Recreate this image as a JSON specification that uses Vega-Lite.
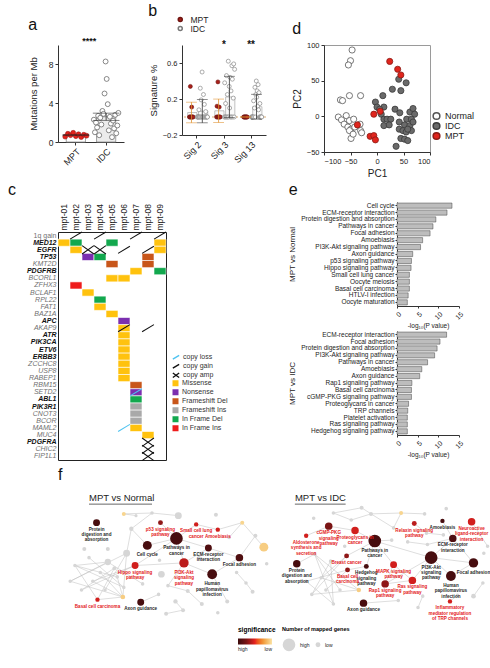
{
"$schema": "https://vega.github.io/schema/vega-lite/v6.json",
"padding": {"left": 8, "top": 3, "right": 2, "bottom": 1},
"spacing": 3,
"resolve": {"scale": {"fill": "independent", "stroke": "independent", "color": "independent", "shape": "independent", "size": "independent"}, "legend": {"fill": "independent", "stroke": "independent", "color": "independent", "shape": "independent", "size": "independent"}},
"config": {
 "font": "Liberation Sans",
 "view": {"stroke": null},
 "axis": {"labelFontSize": 8, "titleFontSize": 9, "titleFontWeight": "normal", "domainColor": "#333", "tickColor": "#333", "labelColor": "#222", "titleColor": "#222", "grid": false, "tickSize": 3, "labelOverlap": false},
 "title": {"anchor": "start", "frame": "bounds", "fontSize": 16, "fontWeight": "normal", "offset": 4, "color": "#111"},
 "legend": {"labelFontSize": 8, "labelColor": "#222"}
},
"datasets": {
 "tmb": [
  {"g":"MPT","id":"M01","v":0.55},{"g":"MPT","id":"M02","v":0.85},{"g":"MPT","id":"M03","v":0.7},{"g":"MPT","id":"M04","v":0.95},{"g":"MPT","id":"M05","v":0.6},{"g":"MPT","id":"M06","v":0.8},{"g":"MPT","id":"M07","v":0.5},{"g":"MPT","id":"M08","v":0.75},{"g":"MPT","id":"M09","v":0.65},
  {"g":"IDC","id":"T01","v":2.3},{"g":"IDC","id":"T02","v":1.0},{"g":"IDC","id":"T03","v":2.0},{"g":"IDC","id":"T04","v":1.5},{"g":"IDC","id":"T05","v":2.7},{"g":"IDC","id":"T06","v":0.7},{"g":"IDC","id":"T07","v":2.5},{"g":"IDC","id":"T08","v":1.8},{"g":"IDC","id":"T09","v":3.2},{"g":"IDC","id":"T10","v":2.9},{"g":"IDC","id":"T11","v":5.0},{"g":"IDC","id":"T12","v":8.3},{"g":"IDC","id":"T13","v":6.5},{"g":"IDC","id":"T14","v":3.9},{"g":"IDC","id":"T15","v":1.2},{"g":"IDC","id":"T16","v":2.6},{"g":"IDC","id":"T17","v":1.9},{"g":"IDC","id":"T18","v":0.5},{"g":"IDC","id":"T19","v":2.2},{"g":"IDC","id":"T20","v":1.4},{"g":"IDC","id":"T21","v":2.8},{"g":"IDC","id":"T22","v":0.9},{"g":"IDC","id":"T23","v":1.7},{"g":"IDC","id":"T24","v":3.0}
 ],
 "sig": [
  {"s":"Sig 2","g":"MPT","id":"M01","v":0},{"s":"Sig 2","g":"MPT","id":"M02","v":0},{"s":"Sig 2","g":"MPT","id":"M03","v":0.34},{"s":"Sig 2","g":"MPT","id":"M04","v":0},{"s":"Sig 2","g":"MPT","id":"M05","v":0},{"s":"Sig 2","g":"MPT","id":"M06","v":0.11},{"s":"Sig 2","g":"MPT","id":"M07","v":0},{"s":"Sig 2","g":"MPT","id":"M08","v":0},{"s":"Sig 2","g":"MPT","id":"M09","v":0},
  {"s":"Sig 2","g":"IDC","id":"T01","v":0},{"s":"Sig 2","g":"IDC","id":"T02","v":0},{"s":"Sig 2","g":"IDC","id":"T03","v":0},{"s":"Sig 2","g":"IDC","id":"T04","v":0},{"s":"Sig 2","g":"IDC","id":"T05","v":0.08},{"s":"Sig 2","g":"IDC","id":"T06","v":0},{"s":"Sig 2","g":"IDC","id":"T07","v":0},{"s":"Sig 2","g":"IDC","id":"T08","v":0.32},{"s":"Sig 2","g":"IDC","id":"T09","v":0},{"s":"Sig 2","g":"IDC","id":"T10","v":0.19},{"s":"Sig 2","g":"IDC","id":"T11","v":0},{"s":"Sig 2","g":"IDC","id":"T12","v":0.5},{"s":"Sig 2","g":"IDC","id":"T13","v":0},{"s":"Sig 2","g":"IDC","id":"T14","v":0},{"s":"Sig 2","g":"IDC","id":"T15","v":0.25},{"s":"Sig 2","g":"IDC","id":"T16","v":0},{"s":"Sig 2","g":"IDC","id":"T17","v":0.14},{"s":"Sig 2","g":"IDC","id":"T18","v":0},{"s":"Sig 2","g":"IDC","id":"T19","v":0},{"s":"Sig 2","g":"IDC","id":"T20","v":0.06},{"s":"Sig 2","g":"IDC","id":"T21","v":0},{"s":"Sig 2","g":"IDC","id":"T22","v":0},{"s":"Sig 2","g":"IDC","id":"T23","v":0},{"s":"Sig 2","g":"IDC","id":"T24","v":0},
  {"s":"Sig 3","g":"MPT","id":"M01","v":0},{"s":"Sig 3","g":"MPT","id":"M02","v":0.12},{"s":"Sig 3","g":"MPT","id":"M03","v":0},{"s":"Sig 3","g":"MPT","id":"M04","v":0.39},{"s":"Sig 3","g":"MPT","id":"M05","v":0},{"s":"Sig 3","g":"MPT","id":"M06","v":0},{"s":"Sig 3","g":"MPT","id":"M07","v":0.11},{"s":"Sig 3","g":"MPT","id":"M08","v":0},{"s":"Sig 3","g":"MPT","id":"M09","v":0},
  {"s":"Sig 3","g":"IDC","id":"T01","v":0},{"s":"Sig 3","g":"IDC","id":"T02","v":0.38},{"s":"Sig 3","g":"IDC","id":"T03","v":0},{"s":"Sig 3","g":"IDC","id":"T04","v":0.15},{"s":"Sig 3","g":"IDC","id":"T05","v":0},{"s":"Sig 3","g":"IDC","id":"T06","v":0.46},{"s":"Sig 3","g":"IDC","id":"T07","v":0},{"s":"Sig 3","g":"IDC","id":"T08","v":0.25},{"s":"Sig 3","g":"IDC","id":"T09","v":0},{"s":"Sig 3","g":"IDC","id":"T10","v":0.62},{"s":"Sig 3","g":"IDC","id":"T11","v":0},{"s":"Sig 3","g":"IDC","id":"T12","v":0.34},{"s":"Sig 3","g":"IDC","id":"T13","v":0.1},{"s":"Sig 3","g":"IDC","id":"T14","v":0.44},{"s":"Sig 3","g":"IDC","id":"T15","v":0},{"s":"Sig 3","g":"IDC","id":"T16","v":0.29},{"s":"Sig 3","g":"IDC","id":"T17","v":0},{"s":"Sig 3","g":"IDC","id":"T18","v":0.57},{"s":"Sig 3","g":"IDC","id":"T19","v":0.42},{"s":"Sig 3","g":"IDC","id":"T20","v":0},{"s":"Sig 3","g":"IDC","id":"T21","v":0.21},{"s":"Sig 3","g":"IDC","id":"T22","v":0.59},{"s":"Sig 3","g":"IDC","id":"T23","v":0},{"s":"Sig 3","g":"IDC","id":"T24","v":0.53},
  {"s":"Sig 13","g":"MPT","id":"M01","v":0},{"s":"Sig 13","g":"MPT","id":"M02","v":0},{"s":"Sig 13","g":"MPT","id":"M03","v":0},{"s":"Sig 13","g":"MPT","id":"M04","v":0},{"s":"Sig 13","g":"MPT","id":"M05","v":0},{"s":"Sig 13","g":"MPT","id":"M06","v":0},{"s":"Sig 13","g":"MPT","id":"M07","v":0},{"s":"Sig 13","g":"MPT","id":"M08","v":0},{"s":"Sig 13","g":"MPT","id":"M09","v":0},
  {"s":"Sig 13","g":"IDC","id":"T01","v":0},{"s":"Sig 13","g":"IDC","id":"T02","v":0},{"s":"Sig 13","g":"IDC","id":"T03","v":0},{"s":"Sig 13","g":"IDC","id":"T04","v":0},{"s":"Sig 13","g":"IDC","id":"T05","v":0},{"s":"Sig 13","g":"IDC","id":"T06","v":0.18},{"s":"Sig 13","g":"IDC","id":"T07","v":0},{"s":"Sig 13","g":"IDC","id":"T08","v":0.1},{"s":"Sig 13","g":"IDC","id":"T09","v":0.33},{"s":"Sig 13","g":"IDC","id":"T10","v":0},{"s":"Sig 13","g":"IDC","id":"T11","v":0.25},{"s":"Sig 13","g":"IDC","id":"T12","v":0.4},{"s":"Sig 13","g":"IDC","id":"T13","v":0.22},{"s":"Sig 13","g":"IDC","id":"T14","v":0.29},{"s":"Sig 13","g":"IDC","id":"T15","v":0.12},{"s":"Sig 13","g":"IDC","id":"T16","v":0.36},{"s":"Sig 13","g":"IDC","id":"T17","v":0.08},{"s":"Sig 13","g":"IDC","id":"T18","v":0.27},{"s":"Sig 13","g":"IDC","id":"T19","v":0},{"s":"Sig 13","g":"IDC","id":"T20","v":0.15},{"s":"Sig 13","g":"IDC","id":"T21","v":0},{"s":"Sig 13","g":"IDC","id":"T22","v":0},{"s":"Sig 13","g":"IDC","id":"T23","v":0},{"s":"Sig 13","g":"IDC","id":"T24","v":0}
 ],
 "pca": [
  {"x":-47,"y":93,"grp":"Normal"},{"x":-50,"y":78,"grp":"Normal"},{"x":-54,"y":72,"grp":"Normal"},{"x":-69,"y":23,"grp":"Normal"},{"x":-65,"y":22,"grp":"Normal"},{"x":-52,"y":29,"grp":"Normal"},{"x":-31,"y":29,"grp":"Normal"},{"x":-73,"y":-1,"grp":"Normal"},{"x":-58,"y":1,"grp":"Normal"},{"x":-67,"y":-5,"grp":"Normal"},{"x":-62,"y":-11,"grp":"Normal"},{"x":-52,"y":-6,"grp":"Normal"},{"x":-44,"y":-4,"grp":"Normal"},{"x":-55,"y":-15,"grp":"Normal"},{"x":-49,"y":-18,"grp":"Normal"},{"x":-52,"y":-20,"grp":"Normal"},{"x":-49,"y":-31,"grp":"Normal"},{"x":-45,"y":-25,"grp":"Normal"},{"x":-32,"y":-11,"grp":"Normal"},{"x":-31,"y":-20,"grp":"Normal"},{"x":-29,"y":-23,"grp":"Normal"},{"x":-42,"y":-15,"grp":"Normal"},
  {"x":-3,"y":20,"grp":"IDC"},{"x":0,"y":13,"grp":"IDC"},{"x":11,"y":29,"grp":"IDC"},{"x":13,"y":13,"grp":"IDC"},{"x":5,"y":10,"grp":"IDC"},{"x":8,"y":3,"grp":"IDC"},{"x":13,"y":-4,"grp":"IDC"},{"x":19,"y":-4,"grp":"IDC"},{"x":26,"y":-4,"grp":"IDC"},{"x":13,"y":-13,"grp":"IDC"},{"x":23,"y":-12,"grp":"IDC"},{"x":34,"y":10,"grp":"IDC"},{"x":29,"y":38,"grp":"IDC"},{"x":45,"y":36,"grp":"IDC"},{"x":41,"y":52,"grp":"IDC"},{"x":55,"y":47,"grp":"IDC"},{"x":43,"y":5,"grp":"IDC"},{"x":62,"y":6,"grp":"IDC"},{"x":68,"y":11,"grp":"IDC"},{"x":71,"y":3,"grp":"IDC"},{"x":56,"y":-4,"grp":"IDC"},{"x":65,"y":-4,"grp":"IDC"},{"x":42,"y":-8,"grp":"IDC"},{"x":52,"y":-12,"grp":"IDC"},{"x":62,"y":-13,"grp":"IDC"},{"x":42,"y":-18,"grp":"IDC"},{"x":49,"y":-20,"grp":"IDC"},{"x":55,"y":-22,"grp":"IDC"},{"x":45,"y":-31,"grp":"IDC"},{"x":52,"y":-32,"grp":"IDC"},{"x":58,"y":-34,"grp":"IDC"},{"x":36,"y":-42,"grp":"IDC"},{"x":65,"y":-20,"grp":"IDC"},{"x":68,"y":-8,"grp":"IDC"},{"x":58,"y":-18,"grp":"IDC"},
  {"x":24,"y":77,"grp":"MPT"},{"x":39,"y":66,"grp":"MPT"},{"x":45,"y":58,"grp":"MPT"},{"x":-6,"y":3,"grp":"MPT"},{"x":6,"y":7,"grp":"MPT"},{"x":-37,"y":-12,"grp":"MPT"},{"x":-13,"y":-28,"grp":"MPT"},{"x":-6,"y":-27,"grp":"MPT"},{"x":-3,"y":-33,"grp":"MPT"}
 ],
 "onco": [
  {"sm":"mpt-01","gn":"MED12","t":"Missense"},{"sm":"mpt-02","gn":"MED12","t":"In Frame Del"},{"sm":"mpt-05","gn":"MED12","t":"In Frame Del"},{"sm":"mpt-09","gn":"MED12","t":"Missense"},
  {"sm":"mpt-02","gn":"EGFR","t":"Missense"},{"sm":"mpt-09","gn":"EGFR","t":"Missense"},
  {"sm":"mpt-03","gn":"TP53","t":"Nonsense"},{"sm":"mpt-04","gn":"TP53","t":"In Frame Del"},{"sm":"mpt-08","gn":"TP53","t":"Frameshift Del"},
  {"sm":"mpt-05","gn":"KMT2D","t":"Frameshift Del"},{"sm":"mpt-08","gn":"KMT2D","t":"Frameshift Del"},
  {"sm":"mpt-07","gn":"PDGFRB","t":"Missense"},{"sm":"mpt-09","gn":"PDGFRB","t":"In Frame Del"},
  {"sm":"mpt-05","gn":"BCORL1","t":"Missense"},{"sm":"mpt-06","gn":"BCORL1","t":"Missense"},
  {"sm":"mpt-02","gn":"ZFHX3","t":"In Frame Ins"},
  {"sm":"mpt-03","gn":"BCLAF1","t":"Missense"},
  {"sm":"mpt-04","gn":"RPL22","t":"In Frame Del"},
  {"sm":"mpt-04","gn":"FAT1","t":"Missense"},
  {"sm":"mpt-05","gn":"BAZ1A","t":"Missense"},
  {"sm":"mpt-06","gn":"APC","t":"Nonsense"},
  {"sm":"mpt-06","gn":"AKAP9","t":"Missense"},{"sm":"mpt-06","gn":"ATR","t":"Missense"},{"sm":"mpt-06","gn":"PIK3CA","t":"Missense"},{"sm":"mpt-06","gn":"ETV6","t":"Missense"},{"sm":"mpt-06","gn":"ERBB3","t":"Missense"},{"sm":"mpt-06","gn":"ZCCHC8","t":"Missense"},{"sm":"mpt-06","gn":"USP8","t":"Missense"},{"sm":"mpt-06","gn":"RABEP1","t":"Missense"},
  {"sm":"mpt-07","gn":"RBM15","t":"Frameshift Del"},{"sm":"mpt-07","gn":"SETD2","t":"Nonsense"},{"sm":"mpt-07","gn":"ABL1","t":"In Frame Del"},{"sm":"mpt-07","gn":"PIK3R1","t":"Frameshift Ins"},{"sm":"mpt-07","gn":"CNOT3","t":"Frameshift Ins"},{"sm":"mpt-07","gn":"BCOR","t":"Frameshift Ins"},{"sm":"mpt-07","gn":"MAML2","t":"Missense"},
  {"sm":"mpt-08","gn":"MUC4","t":"Missense"}
 ],
 "cnv": [
  {"sm":"mpt-02","gn":"1q gain","t":"copy gain"},{"sm":"mpt-04","gn":"1q gain","t":"copy gain"},{"sm":"mpt-07","gn":"1q gain","t":"copy gain"},{"sm":"mpt-09","gn":"1q gain","t":"copy gain"},
  {"sm":"mpt-03","gn":"EGFR","t":"copy amp"},{"sm":"mpt-04","gn":"EGFR","t":"copy amp"},{"sm":"mpt-06","gn":"EGFR","t":"copy gain"},{"sm":"mpt-08","gn":"EGFR","t":"copy gain"},
  {"sm":"mpt-06","gn":"AKAP9","t":"copy gain"},{"sm":"mpt-08","gn":"AKAP9","t":"copy gain"},
  {"sm":"mpt-07","gn":"SETD2","t":"copy loss"},{"sm":"mpt-06","gn":"MAML2","t":"copy loss"},
  {"sm":"mpt-08","gn":"PDGFRA","t":"copy amp"},{"sm":"mpt-08","gn":"CHIC2","t":"copy amp"},{"sm":"mpt-08","gn":"FIP1L1","t":"copy amp"}
 ],
 "e1": [
  {"p":"Cell cycle","v":13.3},{"p":"ECM-receptor interaction","v":12.1},{"p":"Protein digestion and absorption","v":9.4},{"p":"Pathways in cancer","v":8.7},{"p":"Focal adhesion","v":8.0},{"p":"Amoebiasis","v":6.2},{"p":"PI3K-Akt signaling pathway","v":5.7},{"p":"Axon guidance","v":3.8},{"p":"p53 signaling pathway","v":3.5},{"p":"Hippo signaling pathway","v":3.4},{"p":"Small cell lung cancer","v":3.0},{"p":"Oocyte meiosis","v":3.0},{"p":"Basal cell carcinoma","v":3.0},{"p":"HTLV-I infection","v":2.7},{"p":"Oocyte maturation","v":2.5}
 ],
 "e2": [
  {"p":"ECM-receptor interaction","v":12.0},{"p":"Focal adhesion","v":10.4},{"p":"Protein digestion and absorption","v":9.7},{"p":"PI3K-Akt signaling pathway","v":9.1},{"p":"Pathways in cancer","v":7.4},{"p":"Amoebiasis","v":6.0},{"p":"Axon guidance","v":5.5},{"p":"Rap1 signaling pathway","v":3.6},{"p":"Basal cell carcinoma","v":3.5},{"p":"cGMP-PKG signaling pathway","v":3.5},{"p":"Proteoglycans in cancer","v":2.8},{"p":"TRP channels","v":2.6},{"p":"Platelet activation","v":2.5},{"p":"Ras signaling pathway","v":2.5},{"p":"Hedgehog signaling pathway","v":2.5}
 ],
 "nodes": [
  {"x":41,"y":523,"n":30,"sig":0.05,"lab":"Protein\ndigestion and\nabsorption","tc":"k"},
  {"x":109,"y":523,"n":15,"sig":0.3,"lab":"p53 signaling\npathway","tc":"r"},
  {"x":147,"y":525,"n":12,"sig":0.45,"lab":"Small cell lung\ncancer","tc":"r"},
  {"x":170,"y":531,"n":12,"sig":0.45,"lab":"Amoebiasis","tc":"r"},
  {"x":126,"y":541,"n":100,"sig":0.05,"lab":"Pathways in\ncancer","tc":"k"},
  {"x":95,"y":549,"n":50,"sig":0.05,"lab":"Cell cycle","tc":"k"},
  {"x":160,"y":552,"n":30,"sig":0.08,"lab":"ECM-receptor\ninteraction","tc":"k"},
  {"x":193,"y":563,"n":35,"sig":0.08,"lab":"Focal adhesion","tc":"k"},
  {"x":82,"y":572,"n":30,"sig":0.45,"lab":"Hippo signaling\npathway","tc":"r"},
  {"x":134,"y":569,"n":55,"sig":0.4,"lab":"PI3K-Akt\nsignaling\npathway","tc":"r"},
  {"x":164,"y":582,"n":60,"sig":0.05,"lab":"Human\npapillomavirus\ninfection","tc":"k"},
  {"x":42,"y":611,"n":12,"sig":0.45,"lab":"Basal cell carcinoma","tc":"r"},
  {"x":88,"y":614,"n":30,"sig":0.05,"lab":"Axon guidance","tc":"k"},
  {"x":70,"y":513,"n":10,"sig":0.95},{"x":196,"y":523,"n":10,"sig":0.95},{"x":219,"y":551,"n":50,"sig":0.92},{"x":69,"y":608,"n":14,"sig":0.92},
  {"x":128,"y":515,"n":30},{"x":168,"y":514,"n":10},{"x":100,"y":512,"n":8},{"x":83,"y":515,"n":6},{"x":78,"y":530,"n":12},{"x":73,"y":558,"n":30},{"x":53,"y":568,"n":25},{"x":28,"y":553,"n":10},{"x":53,"y":553,"n":10},{"x":110,"y":582,"n":28},{"x":108,"y":566,"n":8},{"x":150,"y":563,"n":8},{"x":210,"y":538,"n":10},{"x":222,"y":570,"n":8},{"x":207,"y":602,"n":10},{"x":200,"y":592,"n":8},{"x":190,"y":580,"n":8},{"x":182,"y":540,"n":8},{"x":180,"y":613,"n":10},{"x":170,"y":626,"n":8},{"x":153,"y":616,"n":10},{"x":138,"y":601,"n":10},{"x":125,"y":613,"n":12},{"x":133,"y":623,"n":10},{"x":115,"y":627,"n":10},{"x":117,"y":595,"n":8},{"x":107,"y":605,"n":8},{"x":70,"y":597,"n":8},{"x":90,"y":593,"n":8},{"x":18,"y":572,"n":8},{"x":13,"y":590,"n":8},{"x":37,"y":590,"n":8},{"x":33,"y":563,"n":8},{"x":50,"y":600,"n":8},{"x":63,"y":585,"n":8},{"x":60,"y":575,"n":10},{"x":45,"y":580,"n":8},{"x":25,"y":600,"n":8},
  {"x":264,"y":538,"n":12,"sig":0.45,"lab":"Aldosterone\nsynthesis and\nsecretion","tc":"r"},
  {"x":288,"y":527,"n":35,"sig":0.25,"lab":"cGMP-PKG\nsignaling\npathway","tc":"r"},
  {"x":316,"y":532,"n":35,"sig":0.45,"lab":"Proteoglycans in\ncancer","tc":"r"},
  {"x":337,"y":544,"n":100,"sig":0.05,"lab":"Pathways in\ncancer","tc":"k"},
  {"x":379,"y":524,"n":15,"sig":0.4,"lab":"Relaxin signaling\npathway","tc":"r"},
  {"x":409,"y":521,"n":12,"sig":0.05,"lab":"Amoebiasis","tc":"k"},
  {"x":440,"y":522,"n":35,"sig":0.45,"lab":"Neuroactive\nligand-receptor\ninteraction","tc":"r"},
  {"x":420,"y":541,"n":35,"sig":0.08,"lab":"ECM-receptor\ninteraction","tc":"k"},
  {"x":307,"y":561,"n":15,"sig":0.3,"lab":"Breast cancer","tc":"r"},
  {"x":328,"y":573,"n":15,"sig":0.05,"lab":"Hedgehog\nsignaling\npathway","tc":"k"},
  {"x":308,"y":577,"n":15,"sig":0.3,"lab":"Basal cell\ncarcinoma","tc":"r"},
  {"x":357,"y":571,"n":30,"sig":0.45,"lab":"MAPK signaling\npathway","tc":"r"},
  {"x":397,"y":563,"n":100,"sig":0.05,"lab":"PI3K-Akt\nsignaling\npathway","tc":"k"},
  {"x":442,"y":569,"n":55,"sig":0.05,"lab":"Focal adhesion","tc":"k"},
  {"x":377,"y":589,"n":35,"sig":0.45,"lab":"Ras signaling\npathway","tc":"r"},
  {"x":348,"y":593,"n":35,"sig":0.3,"lab":"Rap1 signaling\npathway","tc":"r"},
  {"x":418,"y":584,"n":60,"sig":0.05,"lab":"Human\npapillomavirus\ninfection","tc":"k"},
  {"x":417,"y":613,"n":12,"sig":0.45,"lab":"Inflammatory\nmediator regulation\nof TRP channels","tc":"r"},
  {"x":325,"y":615,"n":35,"sig":0.05,"lab":"Axon guidance","tc":"k"},
  {"x":254,"y":570,"n":35,"sig":0.05,"lab":"Protein\ndigestion and\nabsorption","tc":"k"},
  {"x":365,"y":512,"n":10,"sig":0.95},{"x":320,"y":600,"n":12,"sig":0.92},
  {"x":323,"y":506,"n":10},{"x":333,"y":513,"n":10},{"x":312,"y":520,"n":8},{"x":293,"y":512,"n":8},{"x":272,"y":518,"n":8},{"x":390,"y":513,"n":8},{"x":413,"y":507,"n":8},{"x":357,"y":529,"n":8},{"x":392,"y":535,"n":8},{"x":393,"y":548,"n":8},{"x":372,"y":545,"n":8},{"x":355,"y":543,"n":8},{"x":453,"y":558,"n":8},{"x":457,"y":550,"n":8},{"x":452,"y":592,"n":8},{"x":442,"y":607,"n":14},{"x":425,"y":606,"n":8},{"x":388,"y":607,"n":8},{"x":362,"y":612,"n":8},{"x":383,"y":620,"n":8},{"x":273,"y":559,"n":8},{"x":290,"y":567,"n":8},{"x":280,"y":586,"n":8},{"x":293,"y":616,"n":8},{"x":270,"y":605,"n":8},{"x":305,"y":550,"n":8},{"x":410,"y":537,"n":8},{"x":264,"y":590,"n":8},{"x":285,"y":600,"n":8},{"x":300,"y":600,"n":8}
 ],
 "edges": [
  {"x":18,"y":572,"x2":63,"y2":585},{"x":18,"y":572,"x2":70,"y2":597},{"x":13,"y":590,"x2":73,"y2":558},{"x":13,"y":590,"x2":69,"y2":608},{"x":37,"y":590,"x2":82,"y2":572},{"x":25,"y":600,"x2":60,"y2":575},{"x":50,"y":600,"x2":73,"y2":558},{"x":45,"y":580,"x2":69,"y2":608},{"x":33,"y":563,"x2":70,"y2":597},{"x":18,"y":572,"x2":42,"y2":611},{"x":13,"y":590,"x2":53,"y2":568},{"x":63,"y":585,"x2":69,"y2":608},{"x":60,"y":575,"x2":42,"y2":611},{"x":53,"y":568,"x2":90,"y2":593},{"x":73,"y":558,"x2":69,"y2":608},{"x":37,"y":590,"x2":69,"y2":608},{"x":25,"y":600,"x2":82,"y2":572},{"x":18,"y":572,"x2":53,"y2":568},
  {"x":73,"y":558,"x2":78,"y2":530},{"x":78,"y":530,"x2":95,"y2":549},{"x":78,"y":530,"x2":100,"y2":512},{"x":100,"y":512,"x2":128,"y2":515},{"x":70,"y":513,"x2":100,"y2":512},{"x":70,"y":513,"x2":83,"y2":515},{"x":95,"y":549,"x2":126,"y2":541},{"x":126,"y":541,"x2":134,"y2":569},{"x":126,"y":541,"x2":160,"y2":552},{"x":134,"y":569,"x2":160,"y2":552},{"x":160,"y":552,"x2":193,"y2":563},{"x":193,"y":563,"x2":164,"y2":582},{"x":134,"y":569,"x2":164,"y2":582},{"x":126,"y":541,"x2":109,"y2":523},{"x":126,"y":541,"x2":82,"y2":572},{"x":134,"y":569,"x2":82,"y2":572},{"x":126,"y":541,"x2":147,"y2":525},{"x":147,"y":525,"x2":170,"y2":531},{"x":170,"y":531,"x2":196,"y2":523},{"x":196,"y":523,"x2":219,"y2":551},{"x":196,"y":523,"x2":182,"y2":540},{"x":193,"y":563,"x2":210,"y2":538},{"x":88,"y":614,"x2":107,"y2":605},{"x":117,"y":595,"x2":138,"y2":601},{"x":138,"y":601,"x2":153,"y2":616},{"x":125,"y":613,"x2":133,"y2":623},{"x":133,"y":623,"x2":115,"y2":627},{"x":200,"y":592,"x2":207,"y2":602},{"x":190,"y":580,"x2":200,"y2":592},{"x":134,"y":569,"x2":117,"y2":595},{"x":42,"y":611,"x2":69,"y2":608},{"x":164,"y":582,"x2":180,"y2":613},
  {"x":273,"y":559,"x2":293,"y2":616},{"x":273,"y":559,"x2":320,"y2":600},{"x":280,"y":586,"x2":320,"y2":600},{"x":264,"y":590,"x2":293,"y2":616},{"x":270,"y":605,"x2":307,"y2":561},{"x":285,"y":600,"x2":308,"y2":577},{"x":290,"y":567,"x2":293,"y2":616},{"x":264,"y":590,"x2":308,"y2":577},{"x":270,"y":605,"x2":320,"y2":600},{"x":280,"y":586,"x2":307,"y2":561},{"x":300,"y":600,"x2":273,"y2":559},{"x":290,"y":567,"x2":270,"y2":605},
  {"x":323,"y":506,"x2":333,"y2":513},{"x":333,"y":513,"x2":357,"y2":529},{"x":323,"y":506,"x2":293,"y2":512},{"x":293,"y":512,"x2":312,"y2":520},{"x":312,"y":520,"x2":333,"y2":513},{"x":365,"y":512,"x2":357,"y2":529},{"x":365,"y":512,"x2":333,"y2":513},{"x":365,"y":512,"x2":390,"y2":513},{"x":288,"y":527,"x2":316,"y2":532},{"x":316,"y":532,"x2":337,"y2":544},{"x":337,"y":544,"x2":355,"y2":543},{"x":337,"y":544,"x2":307,"y2":561},{"x":337,"y":544,"x2":357,"y2":571},{"x":337,"y":544,"x2":397,"y2":563},{"x":337,"y":544,"x2":328,"y2":573},{"x":397,"y":563,"x2":420,"y2":541},{"x":420,"y":541,"x2":442,"y2":569},{"x":397,"y":563,"x2":442,"y2":569},{"x":397,"y":563,"x2":418,"y2":584},{"x":418,"y":584,"x2":442,"y2":569},{"x":397,"y":563,"x2":377,"y2":589},{"x":357,"y":571,"x2":377,"y2":589},{"x":348,"y":593,"x2":377,"y2":589},{"x":357,"y":571,"x2":348,"y2":593},{"x":397,"y":563,"x2":348,"y2":593},{"x":409,"y":521,"x2":420,"y2":541},{"x":379,"y":524,"x2":392,"y2":535},{"x":392,"y":535,"x2":410,"y2":537},{"x":440,"y":522,"x2":457,"y2":550},{"x":372,"y":545,"x2":393,"y2":548},{"x":393,"y":548,"x2":420,"y2":541},{"x":308,"y":577,"x2":328,"y2":573},{"x":325,"y":615,"x2":362,"y2":612},{"x":383,"y":620,"x2":388,"y2":607},{"x":417,"y":613,"x2":425,"y2":606},{"x":442,"y":607,"x2":452,"y2":592},{"x":264,"y":538,"x2":288,"y2":527},{"x":254,"y":570,"x2":273,"y2":559}
 ],
 "ftitles": [
  {"x":33,"y":495,"x2":100,"t":"MPT vs Normal"},{"x":252,"y":495,"x2":306,"t":"MPT vs IDC"}
 ]
},
"vconcat": [
 {"hconcat": [
  {"title": "a", "width": 66, "height": 97, "data": {"name": "tmb"},
   "layer": [
    {"mark": {"type": "bar", "stroke": "#8c8c8c", "strokeWidth": 0.8, "width": {"band": 0.72}},
     "encoding": {
      "x": {"field": "g", "type": "nominal", "sort": ["MPT","IDC"], "scale": {"paddingInner": 0.12, "paddingOuter": 0.15}, "axis": {"title": null, "labelAngle": -45, "labelFontSize": 9}},
      "y": {"aggregate": "mean", "field": "v", "type": "quantitative", "title": "Mutations per Mb", "scale": {"domain": [0, 10]}, "axis": {"values": [0,2,4,6,8,10], "titleFontSize": 9.5, "labelFontSize": 8.5, "titlePadding": 10}},
      "fill": {"field": "g", "type": "nominal", "scale": {"domain": ["MPT","IDC"], "range": ["#ffffff","#ececec"]}, "legend": null}}},
    {"transform": [{"filter": "datum.g == 'MPT'"}],
     "mark": {"type": "point", "filled": true, "size": 24, "fill": "#e3221c", "stroke": "#8e1010", "strokeWidth": 0.5, "opacity": 1},
     "encoding": {
      "x": {"field": "g", "type": "nominal", "sort": ["MPT","IDC"]},
      "xOffset": {"field": "id", "type": "nominal", "scale": {"paddingOuter": 2}},
      "y": {"field": "v", "type": "quantitative", "title": "Mutations per Mb"}}},
    {"transform": [{"filter": "datum.g == 'IDC'"}],
     "mark": {"type": "point", "filled": true, "size": 24, "fill": "#ffffff", "stroke": "#6a6a6a", "strokeWidth": 0.8, "opacity": 1},
     "encoding": {
      "x": {"field": "g", "type": "nominal", "sort": ["MPT","IDC"]},
      "xOffset": {"field": "id", "type": "nominal", "scale": {"paddingOuter": 2}},
      "y": {"field": "v", "type": "quantitative", "title": "Mutations per Mb"}}},
    {"mark": {"type": "errorbar", "extent": "stderr", "ticks": true, "color": "#222", "thickness": 0.8},
     "encoding": {
      "x": {"field": "g", "type": "nominal", "sort": ["MPT","IDC"]},
      "y": {"field": "v", "type": "quantitative", "title": "Mutations per Mb"}}},
    {"data": {"values": [{"g": "IDC", "t": "****"}]},
     "mark": {"type": "text", "dx": -17, "fontSize": 9, "fontWeight": "bold", "baseline": "middle", "color": "#111111"},
     "encoding": {
      "x": {"field": "g", "type": "nominal", "sort": ["MPT","IDC"]},
      "y": {"datum": 10.4, "type": "quantitative"},
      "text": {"field": "t"}}}
   ],
   "resolve": {"scale": {"xOffset": "independent"}}
  },
  {"title": {"text": "b", "dy": 8}, "width": 84, "height": 90, "data": {"name": "sig"},
   "layer": [
    {"data": {"values": [{}]}, "mark": {"type": "rule", "strokeDash": [2,2], "color": "#c98a3a", "strokeWidth": 0.7},
     "encoding": {"y": {"datum": 0, "type": "quantitative"}}},
    {"mark": {"type": "bar", "fill": "#f6f6f6", "fillOpacity": 0.6, "stroke": "#a8a8a8", "strokeWidth": 0.7, "width": {"band": 0.85}},
     "encoding": {
      "x": {"field": "s", "type": "nominal", "sort": ["Sig 2","Sig 3","Sig 13"], "scale": {"paddingInner": 0.2, "paddingOuter": 0.15}, "axis": {"title": null, "labelAngle": -45, "labelFontSize": 9}},
      "xOffset": {"field": "g", "type": "nominal", "scale": {"domain": ["MPT","IDC"]}},
      "y": {"aggregate": "mean", "field": "v", "type": "quantitative", "title": "Signature %", "scale": {"domain": [-0.2, 0.8]}, "axis": {"values": [-0.2,0,0.2,0.4,0.6,0.8], "format": ".1f", "titleFontSize": 9.5, "labelFontSize": 7.5}}}},
    {"mark": {"type": "point", "filled": true, "size": 16, "strokeWidth": 0.6, "opacity": 1},
     "encoding": {
      "x": {"field": "s", "type": "nominal", "sort": ["Sig 2","Sig 3","Sig 13"]},
      "xOffset": {"field": "id", "type": "nominal", "scale": {"domain": ["p1","p2","p3","p4","p5","p6","p7","M01","M02","M03","M04","M05","M06","M07","M08","M09","p8","p9","p10","p11","p12","p13","p14","p15","T01","T02","T03","T04","T05","T06","T07","T08","T09","T10","T11","T12","T13","T14","T15","T16","T17","T18","T19","T20","T21","T22","T23","T24"]}},
      "y": {"field": "v", "type": "quantitative", "title": "Signature %"},
      "fill": {"field": "g", "type": "nominal", "scale": {"domain": ["MPT","IDC"], "range": ["#a8201a","#ffffff"]}, "legend": {"title": null, "orient": "none", "legendX": -6, "legendY": -30, "labelFontSize": 8.5, "symbolSize": 16, "rowPadding": 0, "labelOffset": 6, "clipHeight": 9}},
      "stroke": {"field": "g", "type": "nominal", "scale": {"domain": ["MPT","IDC"], "range": ["#6e1410","#777777"]}, "legend": {"title": null, "orient": "none", "legendX": -6, "legendY": -30, "labelFontSize": 8.5, "symbolSize": 16, "rowPadding": 0, "labelOffset": 6, "clipHeight": 9}}}},
    {"mark": {"type": "errorbar", "extent": "stdev", "ticks": true, "thickness": 0.8},
     "encoding": {
      "x": {"field": "s", "type": "nominal", "sort": ["Sig 2","Sig 3","Sig 13"]},
      "xOffset": {"field": "g", "type": "nominal", "scale": {"domain": ["MPT","IDC"]}},
      "y": {"field": "v", "type": "quantitative", "title": "Signature %"},
      "color": {"field": "g", "type": "nominal", "scale": {"domain": ["MPT","IDC"], "range": ["#e0922f","#333333"]}, "legend": null}}},
    {"data": {"values": [{"s": "Sig 3", "t": "*"}, {"s": "Sig 13", "t": "**"}]},
     "mark": {"type": "text", "fontSize": 10, "fontWeight": "bold", "baseline": "middle", "fill": "#111111"},
     "encoding": {
      "x": {"field": "s", "type": "nominal", "sort": ["Sig 2","Sig 3","Sig 13"]},
      "y": {"datum": 0.8, "type": "quantitative"},
      "text": {"field": "t"}}}
   ],
   "resolve": {"scale": {"xOffset": "independent"}}
  },
  {"title": "d", "width": 106, "height": 107, "view": {"stroke": "#9a9a9a"}, "data": {"name": "pca"},
   "mark": {"type": "point", "filled": true, "size": 38, "strokeWidth": 0.8, "opacity": 1},
   "encoding": {
    "x": {"field": "x", "type": "quantitative", "scale": {"domain": [-100, 100]}, "axis": {"values": [-100,-50,0,50,100], "title": "PC1", "titleFontSize": 10, "labelFontSize": 7.5}},
    "y": {"field": "y", "type": "quantitative", "scale": {"domain": [-50, 100]}, "axis": {"values": [-50,0,50,100], "title": "PC2", "titleFontSize": 10, "labelFontSize": 7.5}},
    "fill": {"field": "grp", "type": "nominal", "scale": {"domain": ["Normal","IDC","MPT"], "range": ["#ffffff","#6a6a6a","#e0251d"]}, "legend": {"title": null, "orient": "none", "legendX": 108, "legendY": 66, "labelFontSize": 9, "symbolSize": 45, "rowPadding": 0, "clipHeight": 10}},
    "stroke": {"field": "grp", "type": "nominal", "scale": {"domain": ["Normal","IDC","MPT"], "range": ["#555555","#3a3a3a","#8a1a14"]}, "legend": {"title": null, "orient": "none", "legendX": 108, "legendY": 66, "labelFontSize": 9, "symbolSize": 45, "rowPadding": 0, "clipHeight": 10}}}
  }
 ], "spacing": 24,
 "resolve": {"scale": {"fill": "independent", "stroke": "independent", "color": "independent", "shape": "independent", "size": "independent"}, "legend": {"fill": "independent", "stroke": "independent", "color": "independent", "shape": "independent", "size": "independent"}}},
 {"hconcat": [
  {"vconcat": [
   {"title": {"text": "c", "dx": -50}, "width": 108, "height": 1, "data": {"values": []}, "mark": {"type": "point"}},
   {"width": 108, "height": 228, "view": {"stroke": "#222", "strokeWidth": 1},
    "layer": [
     {"data": {"name": "onco"}, "mark": {"type": "rect", "stroke": "#ffffff", "strokeWidth": 0.6},
      "encoding": {
       "x": {"field": "sm", "type": "nominal", "scale": {"domain": ["mpt-01","mpt-02","mpt-03","mpt-04","mpt-05","mpt-06","mpt-07","mpt-08","mpt-09"]}, "axis": {"orient": "top", "labelAngle": -90, "title": null, "ticks": false, "domain": false, "labelFontSize": 8.5, "labelPadding": 2}},
       "y": {"field": "gn", "type": "nominal", "scale": {"domain": ["1q gain","MED12","EGFR","TP53","KMT2D","PDGFRB","BCORL1","ZFHX3","BCLAF1","RPL22","FAT1","BAZ1A","APC","AKAP9","ATR","PIK3CA","ETV6","ERBB3","ZCCHC8","USP8","RABEP1","RBM15","SETD2","ABL1","PIK3R1","CNOT3","BCOR","MAML2","MUC4","PDGFRA","CHIC2","FIP1L1"]},
        "axis": {"title": null, "ticks": false, "domain": false, "labelFontSize": 7, "labelPadding": 2,
         "labelFontWeight": {"condition": {"test": "indexof(['MED12','EGFR','TP53','PDGFRB','APC','ATR','PIK3CA','ETV6','ERBB3','ABL1','PIK3R1','PDGFRA'], datum.value) >= 0", "value": "bold"}, "value": "normal"},
         "labelColor": {"condition": {"test": "indexof(['MED12','EGFR','TP53','PDGFRB','APC','ATR','PIK3CA','ETV6','ERBB3','ABL1','PIK3R1','PDGFRA'], datum.value) >= 0", "value": "#111111"}, "value": "#707070"},
         "labelFontStyle": {"condition": {"test": "datum.value == '1q gain'", "value": "normal"}, "value": "italic"}}},
       "fill": {"field": "t", "type": "nominal", "scale": {"domain": ["Missense","Nonsense","Frameshift Del","Frameshift Ins","In Frame Del","In Frame Ins"], "range": ["#ffc20e","#7b2fb0","#c8561a","#a9a9a9","#12a84e","#ee1c1c"]},
        "legend": {"title": null, "orient": "none", "legendX": 114, "legendY": 177, "symbolType": "square", "symbolSize": 36, "symbolStrokeWidth": 0, "labelFontSize": 7, "rowPadding": 0, "labelColor": "#333", "labelOffset": 3, "clipHeight": 8.5}}}},
     {"data": {"name": "cnv"}, "mark": {"type": "point", "filled": false, "size": 140, "strokeWidth": 1.1, "opacity": 1},
      "encoding": {
       "x": {"field": "sm", "type": "nominal"},
       "y": {"field": "gn", "type": "nominal"},
       "shape": {"field": "t", "type": "nominal", "scale": {"domain": ["copy loss","copy gain","copy amp"], "range": ["M-1,0.6L1,-0.6","M-1,0.6L1,-0.6","M-1,-0.7L1,0.7M-1,0.7L1,-0.7"]},
        "legend": {"title": null, "orient": "none", "legendX": 114, "legendY": 151, "symbolSize": 40, "symbolStrokeWidth": 1.4, "labelFontSize": 7, "rowPadding": 0, "labelColor": "#333", "labelOffset": 3, "clipHeight": 8.5}},
       "stroke": {"field": "t", "type": "nominal", "scale": {"domain": ["copy loss","copy gain","copy amp"], "range": ["#4fc3f0","#111111","#111111"]},
        "legend": {"title": null, "orient": "none", "legendX": 114, "legendY": 151, "symbolSize": 40, "symbolStrokeWidth": 1.4, "labelFontSize": 7, "rowPadding": 0, "labelColor": "#333", "labelOffset": 3, "clipHeight": 8.5}}}}
    ]
   }
  ], "spacing": 0},
  {"vconcat": [
   {"title": "e", "width": 62, "height": 104, "data": {"name": "e1"},
    "mark": {"type": "bar", "fill": "#bdbdbd", "stroke": "#444", "strokeWidth": 0.5},
    "encoding": {
     "y": {"field": "p", "type": "nominal", "sort": null, "scale": {"paddingInner": 0.25, "paddingOuter": 0.15}, "axis": {"title": "MPT vs Normal", "labelFontSize": 6.5, "titleFontSize": 8, "tickSize": 2, "labelPadding": 1, "titlePadding": 4}},
     "x": {"field": "v", "type": "quantitative", "scale": {"domain": [0, 15]}, "axis": {"values": [0,5,10,15], "labelAngle": -45, "labelFontSize": 7, "title": "-log₁₀(P value)", "titleFontSize": 6.5, "tickSize": 2, "titlePadding": 2}}}},
   {"width": 62, "height": 104, "data": {"name": "e2"},
    "mark": {"type": "bar", "fill": "#bdbdbd", "stroke": "#444", "strokeWidth": 0.5},
    "encoding": {
     "y": {"field": "p", "type": "nominal", "sort": null, "scale": {"paddingInner": 0.25, "paddingOuter": 0.15}, "axis": {"title": "MPT vs IDC", "labelFontSize": 6.5, "titleFontSize": 8, "tickSize": 2, "labelPadding": 1, "titlePadding": 4}},
     "x": {"field": "v", "type": "quantitative", "scale": {"domain": [0, 15]}, "axis": {"values": [0,5,10,15], "labelAngle": -45, "labelFontSize": 7, "title": "-log₁₀(P value)", "titleFontSize": 6.5, "tickSize": 2, "titlePadding": 2}}}}
  ], "spacing": 2}
 ], "spacing": 60,
 "resolve": {"scale": {"fill": "independent", "stroke": "independent", "color": "independent", "shape": "independent", "size": "independent"}, "legend": {"fill": "independent", "stroke": "independent", "color": "independent", "shape": "independent", "size": "independent"}}},
 {"title": {"text": "f", "offset": 2}, "width": 470, "height": 140,
  "layer": [
   {"data": {"name": "edges"}, "mark": {"type": "rule", "color": "#bdbdbd", "strokeWidth": 0.5},
    "encoding": {
     "x": {"field": "x", "type": "quantitative", "scale": {"domain": [5, 487]}, "axis": null},
     "y": {"field": "y", "type": "quantitative", "scale": {"domain": [490, 632], "reverse": true}, "axis": null},
     "x2": {"field": "x2"}, "y2": {"field": "y2"}}},
   {"data": {"name": "nodes"}, "transform": [{"filter": "datum.sig == null"}],
    "mark": {"type": "circle", "fill": "#d6d6d6", "opacity": 1},
    "encoding": {
     "x": {"field": "x", "type": "quantitative", "axis": null},
     "y": {"field": "y", "type": "quantitative", "axis": null},
     "size": {"field": "n", "type": "quantitative", "scale": {"domain": [0, 100], "range": [0, 160]},
      "legend": {"title": "Number of mapped genes", "titleFontSize": 5.5, "titleFontWeight": "bold", "orient": "none", "legendX": 224, "legendY": 142, "direction": "horizontal", "values": [100, 15], "labelExpr": "datum.value > 50 ? 'high' : 'low'", "labelFontSize": 5, "symbolFillColor": "#dddddd", "symbolStrokeColor": "#999999", "symbolStrokeWidth": 0.5, "columnPadding": 4}}}},
   {"data": {"name": "nodes"}, "transform": [{"filter": "datum.sig != null"}],
    "mark": {"type": "circle", "opacity": 1},
    "encoding": {
     "x": {"field": "x", "type": "quantitative", "axis": null},
     "y": {"field": "y", "type": "quantitative", "axis": null},
     "size": {"field": "n", "type": "quantitative",
      "legend": {"title": "Number of mapped genes", "titleFontSize": 5.5, "titleFontWeight": "bold", "orient": "none", "legendX": 224, "legendY": 142, "direction": "horizontal", "values": [100, 15], "labelExpr": "datum.value > 50 ? 'high' : 'low'", "labelFontSize": 5, "symbolFillColor": "#dddddd", "symbolStrokeColor": "#999999", "symbolStrokeWidth": 0.5, "columnPadding": 4}},
     "color": {"field": "sig", "type": "quantitative", "scale": {"domain": [0, 0.25, 0.5, 0.75, 1], "range": ["#3b0b0b", "#7a1414", "#e8231f", "#f29b3c", "#fbe2a6"]},
      "legend": {"title": "significance", "titleFontSize": 6.5, "titleFontWeight": "bold", "orient": "none", "legendX": 180, "legendY": 142, "direction": "horizontal", "gradientLength": 34, "gradientThickness": 6, "values": [0, 1], "labelExpr": "datum.value == 0 ? 'high' : 'low'", "labelFontSize": 5}}}},
   {"data": {"name": "nodes"}, "transform": [{"filter": "datum.lab != null && datum.n >= 50"}],
    "mark": {"type": "text", "fontSize": 4.6, "fontWeight": "bold", "baseline": "top", "dy": 7, "lineBreak": "\n", "lineHeight": 5.4},
    "encoding": {
     "x": {"field": "x", "type": "quantitative", "axis": null},
     "y": {"field": "y", "type": "quantitative", "axis": null},
     "text": {"field": "lab"},
     "fill": {"field": "tc", "type": "nominal", "scale": {"domain": ["r", "k"], "range": ["#e3201b", "#2a2a2a"]}, "legend": null}}},
   {"data": {"name": "nodes"}, "transform": [{"filter": "datum.lab != null && datum.n < 50"}],
    "mark": {"type": "text", "fontSize": 4.6, "fontWeight": "bold", "baseline": "top", "dy": 4, "lineBreak": "\n", "lineHeight": 5.4},
    "encoding": {
     "x": {"field": "x", "type": "quantitative", "axis": null},
     "y": {"field": "y", "type": "quantitative", "axis": null},
     "text": {"field": "lab"},
     "fill": {"field": "tc", "type": "nominal", "legend": null}}},
   {"data": {"name": "ftitles"},
    "mark": {"type": "text", "fontSize": 9.5, "align": "left", "baseline": "middle", "color": "#222"},
    "encoding": {
     "x": {"field": "x", "type": "quantitative", "axis": null},
     "y": {"field": "y", "type": "quantitative", "axis": null},
     "text": {"field": "t"}}},
   {"data": {"name": "ftitles"},
    "mark": {"type": "rule", "color": "#222", "strokeWidth": 0.7, "yOffset": 6},
    "encoding": {
     "x": {"field": "x", "type": "quantitative", "axis": null},
     "x2": {"field": "x2"},
     "y": {"field": "y", "type": "quantitative", "axis": null}}}
  ]
 }
]
}
